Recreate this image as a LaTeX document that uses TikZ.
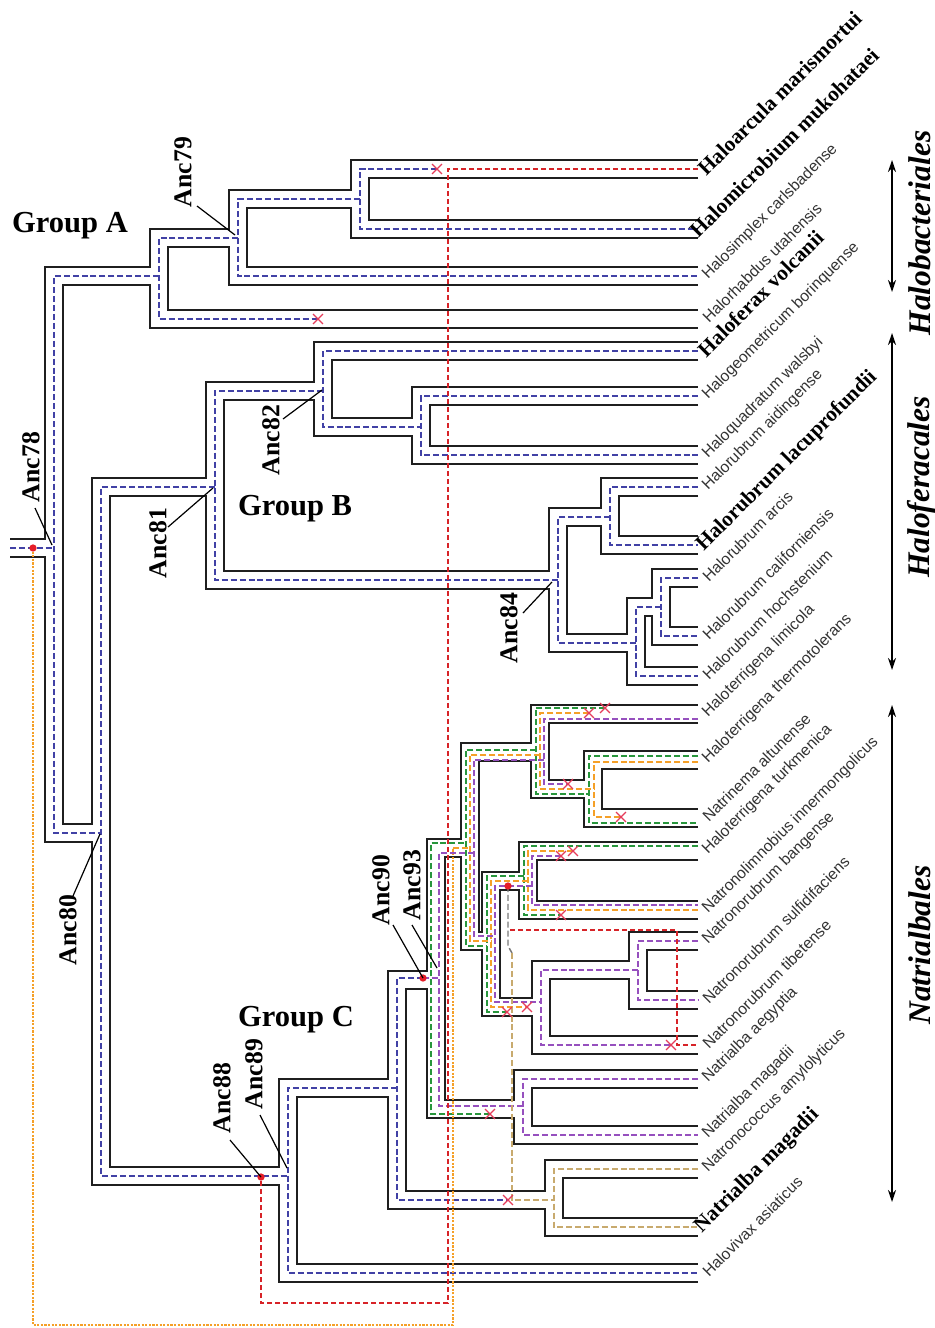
\documentclass[tikz,border=0pt]{standalone}
\usepackage{fontspec}
\setmainfont{Liberation Serif}
\newfontfamily\sansf{Liberation Sans}
\usetikzlibrary{arrows.meta,shapes.misc,calc}
\definecolor{cblue}{RGB}{65,65,165}
\definecolor{cgreen}{RGB}{40,150,60}
\definecolor{corange}{RGB}{245,160,40}
\definecolor{cpurple}{RGB}{150,80,190}
\definecolor{ctan}{RGB}{200,170,110}
\definecolor{cgray}{RGB}{120,120,120}
\definecolor{cred}{RGB}{215,35,40}
\definecolor{xred}{RGB}{230,60,90}
\definecolor{dotred}{RGB}{230,30,40}
\newcommand\sptree[1]{%
 \draw[#1] (R0) -- (a78);
 \draw[#1] (nA) -| (a78 |- a80) -- (a80);
 \draw[#1] (L1) -| (nA1 |- L2) -- (L2);
 \draw[#1] (nA1) -| (a79 |- L3) -- (L3);
 \draw[#1] (a79) -| (nA |- L4) -- (L4);
 \draw[#1] (a81) -| (a80 |- a89) -- (a89);
 \draw[#1] (a82) -| (a81 |- a84) -- (a84);
 \draw[#1] (L5) -| (a82 |- nB1) -- (nB1);
 \draw[#1] (L6) -| (nB1 |- L7) -- (L7);
 \draw[#1] (nB2) -| (a84 |- nB3) -- (nB3);
 \draw[#1] (L8) -| (nB2 |- L9) -- (L9);
 \draw[#1] (nB4) -| (nB3 |- L12) -- (L12);
 \draw[#1] (L10) -| (nB4 |- L11) -- (L11);
 \draw[#1] (nC1) -| (a89 |- L25) -- (L25);
 \draw[#1] (a93) -| (nC1 |- nC2) -- (nC2);
 \draw[#1] (L23) -| (nC2 |- L24) -- (L24);
 \draw[#1] (nC4) -| (a93 |- nC11) -- (nC11);
 \draw[#1] (L21) -| (nC11 |- L22) -- (L22);
 \draw[#1] (nC5) -| (nC4 |- nC8) -- (nC8);
 \draw[#1] (L13) -| (nC5 |- nC6) -- (nC6);
 \draw[#1] (L14) -| (nC6 |- L15) -- (L15);
 \draw[#1] (nC7) -| (nC8 |- nC9) -- (nC9);
 \draw[#1] (L16) -| (nC7 |- L17) -- (L17);
 \draw[#1] (nC10) -| (nC9 |- L20) -- (L20);
 \draw[#1] (L18) -| (nC10 |- L19) -- (L19);
}
\begin{document}
\begin{tikzpicture}[x=0.75pt,y=-0.75pt,
  tubeblack/.style={draw=black!88, line width=15pt, line join=miter},
  tubewhite/.style={draw=white, line width=12pt, line join=miter},
  gene/.style={line width=1.3pt, dash pattern=on 4.5pt off 2.2pt, line join=miter},
  blu/.style={gene, draw=cblue},
  grn/.style={gene, draw=cgreen},
  org/.style={gene, draw=corange},
  pur/.style={gene, draw=cpurple},
  tanl/.style={gene, draw=ctan, line width=1.1pt},
  gry/.style={gene, draw=cgray, line width=1.1pt},
  redl/.style={draw=cred, line width=1.1pt, dash pattern=on 4pt off 2pt, line join=miter},
  orgdot/.style={draw=corange, line width=0.9pt, dash pattern=on 1.6pt off 1.1pt, line join=miter},
  loss/.style={cross out, draw=xred, line width=0.9pt, minimum size=6.5pt, inner sep=0pt},
  evt/.style={circle, fill=dotred, inner sep=0pt, minimum size=5.5pt},
  leaflab/.style={rotate=45, anchor=west, inner sep=0pt, text=black!80, font=\sansf\fontsize{11.8}{12}\selectfont},
  boldlab/.style={rotate=45, anchor=west, inner sep=0pt, font=\bfseries\fontsize{16}{18}\selectfont},
  anclab/.style={rotate=90, inner sep=0pt, font=\bfseries\fontsize{19.3}{20}\selectfont},
  grouplab/.style={inner sep=0pt, font=\bfseries\fontsize{22.9}{24}\selectfont},
  ordlab/.style={rotate=90, inner sep=0pt, font=\bfseries\itshape\fontsize{23.6}{25}\selectfont},
  leader/.style={draw=black, line width=0.9pt},
  rangearrow/.style={draw=black, line width=1.1pt, {Stealth[length=9pt,width=6pt]}-{Stealth[length=9pt,width=6pt]}}
]
\fill[white] (0,0) rectangle (935,1328);
\useasboundingbox (0,0) rectangle (935,1328);

% leaves
\foreach \n/\y in {1/169,2/229,3/276,4/319,5/351,6/396,7/455,8/487,9/545,10/578,11/636,12/676,
  13/714,14/760,15/818,16/851,17/910,18/941,19/1000,20/1045,21/1079,22/1135,23/1169,24/1227,25/1273}
  \coordinate (L\n) at (698,\y);
% internal nodes (x of node, y of incoming branch)
\coordinate (R0) at (10,548);
\coordinate (a78) at (54,548);
\coordinate (nA) at (159,276);
\coordinate (a79) at (238,238);
\coordinate (nA1) at (360,199);
\coordinate (a80) at (101,833);
\coordinate (a81) at (215,487);
\coordinate (a82) at (323,391);
\coordinate (nB1) at (421,427);
\coordinate (a84) at (558,580);
\coordinate (nB2) at (610,517);
\coordinate (nB3) at (636,643);
\coordinate (nB4) at (661,607);
\coordinate (a89) at (288,1176);
\coordinate (nC1) at (397,1088);
\coordinate (nC2) at (554,1200);
\coordinate (a93) at (436,980);
\coordinate (nC11) at (523,1109);
\coordinate (nC4) at (470,848);
\coordinate (nC5) at (540,752);
\coordinate (nC6) at (593,789);
\coordinate (nC8) at (491,941);
\coordinate (nC7) at (528,881);
\coordinate (nC9) at (541,1007);
\coordinate (nC10) at (638,970);

% species tree tubes
\sptree{tubeblack}
\sptree{tubewhite}

% event points
\coordinate (e78) at (33,548);
\coordinate (e88) at (261,1177);
\coordinate (e90) at (423,978);
\coordinate (e91) at (508,886);

% blue gene tree
\draw[blu] (R0) -- (a78);
\draw[blu] (nA) -| (a78 |- a80) -- (a80);
\draw[blu] (437,169) -| (nA1 |- L2) -- (L2);
\draw[blu] (nA1) -| (a79 |- L3) -- (L3);
\draw[blu] (a79) -| (nA |- L4) -- (318,319);
\draw[blu] (a81) -| (a80 |- a89) -- (a89);
\draw[blu] (a82) -| (a81 |- a84) -- (a84);
\draw[blu] (L5) -| (a82 |- nB1) -- (nB1);
\draw[blu] (L6) -| (nB1 |- L7) -- (L7);
\draw[blu] (nB2) -| (a84 |- nB3) -- (nB3);
\draw[blu] (L8) -| (nB2 |- L9) -- (L9);
\draw[blu] (nB4) -| (nB3 |- L12) -- (L12);
\draw[blu] (L10) -| (nB4 |- L11) -- (L11);
\draw[blu] (nC1) -| (a89 |- L25) -- (L25);
\draw[blu] (e90) -| (nC1 |- nC2) -- (508,1200);

% green
\draw[grn] (e90) -- (431,978);
\draw[grn] (490,1114) -| (431,843) -- (466,843);
\draw[grn] (536,750) -| (466,946) -- (487,946);
\draw[grn] (605,708) -| (536,794) -- (589,794);
\draw[grn] (698,756) -| (589,823) -- (698,823);
\draw[grn] (524,876) -| (487,1012) -- (507,1012);
\draw[grn] (698,846) -| (524,915) -- (561,915);

% orange
\draw[orgdot] (e78) -- (33,1325) -- (453,1325) -- (453,848);
\draw[org] (453,848) -- (470,848);
\draw[org] (540,755) -| (470,941) -- (491,941);
\draw[org] (589,713) -| (540,789) -- (594,789);
\draw[org] (698,762) -| (594,817) -- (621,817);
\draw[org] (528,881) -| (491,1007) -- (527,1007);
\draw[org] (573,851) -| (528,910) -- (698,910);

% purple
\draw[pur] (e90) -- (439,978);
\draw[pur] (474,853) -| (439,1106) -- (523,1106);
\draw[pur] (698,1079) -| (523,1135) -- (698,1135);
\draw[pur] (544,760) -| (474,936) -- (495,936);
\draw[pur] (698,719) -| (544,784) -- (568,784);
\draw[pur] (532,886) -| (495,1002) -- (541,1002);
\draw[pur] (561,856) -| (532,905) -- (698,905);
\draw[pur] (638,970) -| (541,1045) -- (671,1045);
\draw[pur] (698,941) -| (638,1000) -- (698,1000);

% gray, tan, red transfers
\draw[gry] (e91) -- (508,946) -- (512,953);
\draw[tanl] (512,953) -- (512,1200) -- (554,1200);
\draw[tanl] (698,1169) -| (554,1227) -- (698,1227);
\draw[redl] (510,930) -- (677,930) -- (677,1045) -- (698,1045);
\draw[redl] (698,169) -- (448,169) -- (448,1303) -- (261,1303) -- (e88);

% losses
\foreach \p [count=\i] in {(437,169),(318,319),(508,1200),(490,1114),(605,708),(507,1012),(561,915),
   (589,713),(621,817),(527,1007),(573,851),(568,784),(561,856),(671,1045)}
  \node[loss] (x\i) at \p {};
% events
\node[evt] (d78) at (e78) {};
\node[evt] (d88) at (e88) {};
\node[evt] (d90) at (e90) {};
\node[evt] (d91) at (e91) {};

% ancestor labels and leaders
\node[anclab] (l78) at (31,467) {Anc78};
\node[anclab] (l79) at (183,172) {Anc79};
\node[anclab] (l80) at (68,930) {Anc80};
\node[anclab] (l81) at (158,543) {Anc81};
\node[anclab] (l82) at (271,440) {Anc82};
\node[anclab] (l84) at (509,628) {Anc84};
\node[anclab] (l88) at (222,1098) {Anc88};
\node[anclab] (l89) at (254,1074) {Anc89};
\node[anclab] (l90) at (381,890) {Anc90};
\node[anclab] (l93) at (412,885) {Anc93};
\coordinate (s78) at (35,508);
\coordinate (s79) at (197,206);
\coordinate (s80) at (73,896);
\coordinate (s81) at (168,527);
\coordinate (s82) at (283,419);
\coordinate (s84) at (523,613);
\coordinate (s88) at (230,1140);
\coordinate (s89) at (260,1115);
\coordinate (s90) at (393,925);
\coordinate (s93) at (412,925);
\draw[leader] (s78) -- (52,545);
\draw[leader] (s79) -- (235,235);
\draw[leader] (s80) -- (100,834);
\draw[leader] (s81) -- (213,488);
\draw[leader] (s82) -- (322,390);
\draw[leader] (s84) -- (552,582);
\draw[leader] (s88) -- (e88);
\draw[leader] (s89) -- (287,1168);
\draw[leader] (s90) -- (e90);
\draw[leader] (s93) -- (437,968);

% group labels
\node[grouplab] (gA) at (70,226) {Group A};
\node[grouplab] (gB) at (295,509) {Group B};
\node[grouplab] (gC) at (296,1020) {Group C};

% leaf labels
\node[boldlab] (t1) at (701,172) {Haloarcula marismortui};
\node[boldlab] (t2) at (693,234) {Halomicrobium mukohataei};
\node[leaflab] (t3) at (705,277) {Halosimplex carlsbadense};
\node[leaflab] (t4) at (705,320) {Halorhabdus utahensis};
\node[boldlab] (t5) at (701,353) {Haloferax volcanii};
\node[leaflab] (t6) at (705,397) {Halogeometricum borinquense};
\node[leaflab] (t7) at (705,456) {Haloquadratum walsbyi};
\node[leaflab] (t8) at (705,488) {Halorubrum aidingense};
\node[boldlab] (t9) at (700,548) {Halorubrum lacuprofundii};
\node[leaflab] (t10) at (705,579) {Halorubrum arcis};
\node[leaflab] (t11) at (705,637) {Halorubrum californiensis};
\node[leaflab] (t12) at (705,677) {Halorubrum hochstenium};
\node[leaflab] (t13) at (705,715) {Haloterrigena limicola};
\node[leaflab] (t14) at (705,761) {Haloterrigena thermotolerans};
\node[leaflab] (t15) at (705,819) {Natrinema altunense};
\node[leaflab] (t16) at (705,852) {Haloterrigena turkmenica};
\node[leaflab] (t17) at (705,911) {Natronolimnobius innermongolicus};
\node[leaflab] (t18) at (705,942) {Natronorubrum bangense};
\node[leaflab] (t19) at (705,1001) {Natronorubrum sulfidifaciens};
\node[leaflab] (t20) at (705,1046) {Natronorubrum tibetense};
\node[leaflab] (t21) at (705,1080) {Natrialba aegyptia};
\node[leaflab] (t22) at (705,1136) {Natrialba magadii};
\node[leaflab] (t23) at (705,1170) {Natronococcus amylolyticus};
\node[boldlab] (t24) at (698,1230) {Natrialba magadii};
\node[leaflab] (t25) at (705,1274) {Halovivax asiaticus};

% order ranges
\coordinate (r1a) at (892,160); \coordinate (r1b) at (892,292);
\coordinate (r2a) at (892,333); \coordinate (r2b) at (892,670);
\coordinate (r3a) at (892,705); \coordinate (r3b) at (892,1202);
\draw[rangearrow] (r1a) -- (r1b);
\draw[rangearrow] (r2a) -- (r2b);
\draw[rangearrow] (r3a) -- (r3b);
\node[ordlab] (o1) at (920,233) {Halobacteriales};
\node[ordlab] (o2) at (922,487) {Haloferacales};
\node[ordlab] (o3) at (920,945) {Natrialbales};
\end{tikzpicture}
\end{document}
